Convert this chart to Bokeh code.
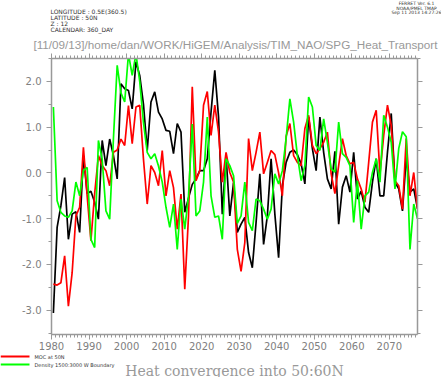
from bokeh.plotting import figure
from bokeh.layouts import column
from bokeh.models import (Range1d, LinearAxis, Label, SingleIntervalTicker,
                          PrintfTickFormatter, CustomJSTickFormatter)
from bokeh.embed import file_html
from bokeh.resources import INLINE

# ---------------- data (annual means, plotted at mid-year) ----------------
years = list(range(1980, 2078))

heat_convergence = [
    -3.06, -1.19, -0.72, -0.10, -1.45, -0.90, -0.85, -1.30, 0.38, -0.45,
    -0.40, -0.64, -1.01, 0.71, 0.16, 0.74, 0.38, -0.13, 1.95, 1.84,
    1.80, 1.40, 2.43, 2.13, 1.50, 0.49, 1.55, 1.77, 1.33, 1.18,
    0.93, 0.91, 0.42, 1.08, 0.89, -0.86, -0.55, -0.25, -0.13, 0.05,
    0.05, 0.31, 1.33, 2.24, 1.22, -0.90, 0.38, -0.94, -0.21, -1.30,
    -1.12, -0.97, -1.74, -2.07, -1.08, -0.02, -1.56, -0.94, 0.31, -0.90,
    -1.85, -0.28, 0.23, 0.45, 0.50, 0.40, 0.20, -0.24, 1.22, 0.53,
    0.05, 1.22, 0.45, -0.13, -0.35, 0.47, -1.12, -0.31, -0.06, -0.42,
    0.45, -0.57, -0.40, -0.75, -0.86, -0.20, 0.31, -0.50, -0.50, 0.45,
    1.30, -0.20, -0.35, -0.83, 0.34, -0.42, -0.35, -0.78,
]

moc_50n = [
    -2.43, -2.45, -2.40, -1.81, -2.91, -2.18, -0.94, -0.75, 0.56, -0.50,
    -1.48, -0.45, 0.38, 0.16, 0.05, -0.28, 0.45, 0.50, 0.74, 0.60,
    1.47, 0.64, 1.44, 1.48, 0.30, -0.68, 0.16, 0.01, -0.28, 0.49,
    -0.50, 0.05, -0.32, -1.23, -0.46, -2.54, -0.94, 1.88, -0.17, 0.05,
    1.48, 1.78, 0.82, 1.48, 0.89, -0.20, 0.45, 0.01, -0.20, -1.67,
    -2.15, -1.52, 0.75, 0.05, 0.45, 0.89, -0.02, 0.23, 0.49, 0.40,
    0.00, -0.50, 0.80, 1.08, 0.38, 0.23, 0.16, 0.97, 1.26, 0.60,
    0.42, 0.53, 0.67, 0.89, -0.02, -0.45, 0.16, 0.75, 0.38, 0.20,
    0.23, -0.13, -0.35, -0.64, 0.23, 1.11, 1.37, -0.02, 0.82, 1.48,
    1.04, -0.17, -0.28, -0.79, 0.75, -0.50, 0.01, -0.79,
]

density_w_boundary = [
    1.44, -0.61, -0.86, -0.94, -0.97, -0.83, -0.20, -0.50, 0.05, 0.12,
    -1.45, -1.63, 0.71, 0.30, -0.83, -1.01, 0.75, 2.35, 1.75, 1.55,
    2.60, 2.13, 2.60, 2.00, 1.10, 0.45, 0.31, 0.42, 0.15, -0.20,
    -0.75, -1.19, -0.68, -1.67, -0.57, -1.23, -0.50, 1.07, -0.94, -0.83,
    -0.20, 1.22, -0.50, -0.97, -0.94, -1.45, 0.31, 0.16, -0.06, -1.10,
    -0.94, -0.20, -1.08, -1.26, -0.57, -0.61, -0.79, -1.01, -0.79, -0.02,
    -0.24, 0.05, 0.75, 1.62, 1.11, 0.38, -0.17, 0.16, 1.66, 1.44,
    0.60, 0.49, 1.18, 0.67, 0.09, 0.02, 1.11, 0.42, 0.34, 0.16,
    -1.08, -0.17, -1.23, -0.50, -0.42, 0.01, 0.31, -0.20, 1.26, 1.00,
    0.67, -0.35, 0.53, 0.90, 0.79, -1.67, -0.68, -1.00,
]

series_names = ["MOC at 50N", "Density 1500:3000 W Boundary"]
header_left = ["LONGITUDE : 0.5E(360.5)", "LATITUDE : 50N", "Z : 12", "CALENDAR: 360_DAY"]
header_right = ["FERRET Ver. 6.1", "NOAA/PMEL TMAP", "Sep 11 2013 14:27:26"]
path_title = "[11/09/13]/home/dan/WORK/HiGEM/Analysis/TIM_NAO/SPG_Heat_Transport"
plot_title = "Heat convergence into 50:60N"

x_tick_interval = 10
y_tick_interval = 1.0

W = 441
HEAD_H = 52          # header strip height
MAIN_H = 301         # main figure (frame at y 58..334 of the page)
FOOT_H = 377 - HEAD_H - MAIN_H


def blank_fig(h, y0):
    f = figure(width=W, height=h, output_backend="svg", toolbar_location=None,
               x_range=Range1d(0, W), y_range=Range1d(y0 + h, y0),
               x_axis_location=None, y_axis_location=None,
               min_border=0, frame_align=False)
    f.outline_line_color = None
    f.grid.visible = False
    return f


def txt(f, text, x, y, size, color="#333333", font="DejaVu Sans", align="left"):
    f.add_layout(Label(x=x, y=y, text=text, text_font=font,
                       text_font_size=f"{size}px", text_color=color,
                       text_align=align, text_baseline="middle"))


# ---------------- header ----------------
head = blank_fig(HEAD_H, 0)
for i, t in enumerate(header_left):
    txt(head, t, 50, 11 + 6.1 * i, 6)
for i, t in enumerate(header_right):
    txt(head, t, 416, 3.2 + 4.5 * i, 4.5, align="center")
txt(head, path_title, 235, 44, 11.7, color="#999999", font="Liberation Sans", align="center")

# ---------------- main plot ----------------
p = figure(width=W, height=MAIN_H, output_backend="svg", toolbar_location=None,
           x_range=Range1d(1980, 2077.5), y_range=Range1d(-3.53, 2.5),
           x_axis_location=None, y_axis_location=None,
           min_border_left=51, min_border_top=6,
           min_border_right=24, min_border_bottom=19, frame_align=False)
p.outline_line_color = None
p.grid.visible = False

xc = [y + 0.5 for y in years]
p.line(xc, heat_convergence, line_color="black", line_width=1.7)
p.line(xc, moc_50n, line_color="#ff0000", line_width=1.7)
p.line(xc, density_w_boundary, line_color="#00ff00", line_width=1.7)

AX_COL = "#999999"
LBL_COL = "#808080"


def style_axis(ax, labels=True):
    ax.axis_line_color = AX_COL
    ax.axis_line_width = 1.5
    ax.major_tick_line_color = AX_COL
    ax.minor_tick_line_color = AX_COL
    ax.major_tick_out = 5
    ax.major_tick_in = 0
    ax.minor_tick_out = 3
    ax.minor_tick_in = 0
    ax.major_label_text_color = LBL_COL
    ax.major_label_text_font = "DejaVu Sans"
    ax.major_label_text_font_size = "10px"
    if not labels:
        ax.formatter = CustomJSTickFormatter(code="return ''")
        ax.major_label_text_font_size = "1px"
        ax.major_label_standoff = 0


xt = dict(interval=x_tick_interval, num_minor_ticks=10)
yt = dict(interval=y_tick_interval, num_minor_ticks=2)

bottom = LinearAxis(ticker=SingleIntervalTicker(**xt))
style_axis(bottom)
bottom.major_label_standoff = 2
top = LinearAxis(ticker=SingleIntervalTicker(**xt))
style_axis(top, labels=False)
left = LinearAxis(ticker=SingleIntervalTicker(**yt),
                  formatter=PrintfTickFormatter(format="%.1f"))
style_axis(left)
left.major_label_standoff = 5
right = LinearAxis(ticker=SingleIntervalTicker(**yt))
style_axis(right, labels=False)

p.add_layout(bottom, "below")
p.add_layout(top, "above")
p.add_layout(left, "left")
p.add_layout(right, "right")

# ---------------- footer ----------------
y0 = HEAD_H + MAIN_H
foot = blank_fig(FOOT_H, y0)
leg_colors = ["#ff0000", "#00ff00"]
leg_y = [356, 364]
foot.segment(x0=[0, 0], x1=[29, 29], y0=leg_y, y1=leg_y, line_color=leg_colors, line_width=2)
for name, yy in zip(series_names, leg_y):
    txt(foot, name, 34, yy, 5)
txt(foot, plot_title, 234, 370, 14, color="#999999", font="DejaVu Serif", align="center")

layout = column(head, p, foot, spacing=0)
open("out.html", "w").write(file_html(layout, INLINE))
